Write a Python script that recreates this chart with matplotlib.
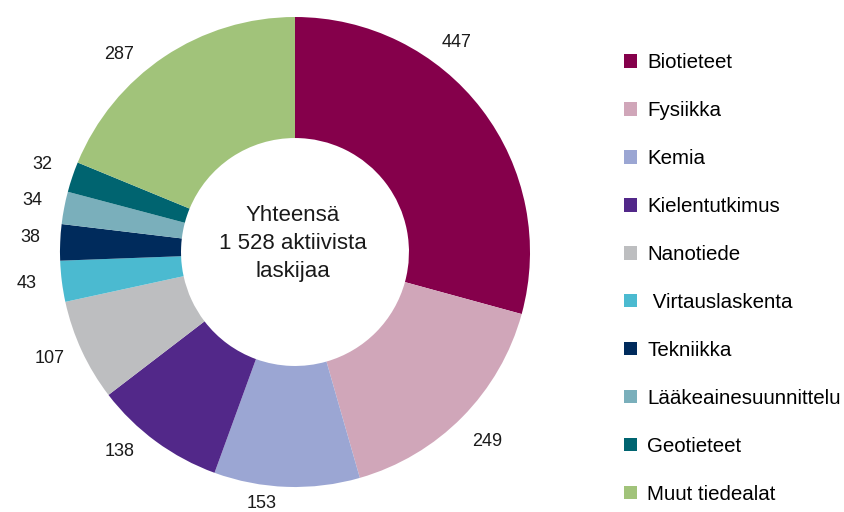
import numpy as np
import matplotlib.pyplot as plt
from matplotlib.patches import Patch

plt.rcParams['font.family'] = ['Liberation Sans', 'DejaVu Sans']

categories = ["Biotieteet", "Fysiikka", "Kemia", "Kielentutkimus", "Nanotiede",
              " Virtauslaskenta", "Tekniikka", "Lääkeainesuunnittelu", "Geotieteet",
              "Muut tiedealat"]
values = [447, 249, 153, 138, 107, 43, 38, 34, 32, 287]
colors = ["#85004B", "#D0A6B9", "#9BA6D3", "#522889", "#BDBEC0",
          "#4BBAD0", "#002B5C", "#7AAFBB", "#006470", "#A1C37A"]
center_text = "Yhteensä\n1 528 aktiivista\nlaskijaa"

# label nudges (degrees along the ring, radius) to mimic the original placement
label_shift = [-15, 0, 5.5, 5, 1.4, 0.5, 0.8, 0.3, 0.5, -8]
label_rad = [1.125, 1.15, 1.08, 1.13, 1.136, 1.148, 1.13, 1.14, 1.14, 1.125]

W, H = 845, 512
fig = plt.figure(figsize=(W / 100, H / 100), dpi=100)

# pie axes placed so the donut centre sits at (295, 252) px, radius 235 px
R = 235
lim = 1.25
side = 2 * lim * R
cx, cy = 295, H - 252
ax = fig.add_axes([(cx - side / 2) / W, (cy - side / 2) / H, side / W, side / H])

wedges, _ = ax.pie(values, colors=colors, startangle=90, counterclock=False,
                   wedgeprops=dict(width=0.515, linewidth=0))

for w, v, sh, r in zip(wedges, values, label_shift, label_rad):
    mid = (w.theta1 + w.theta2) / 2 - sh
    a = np.deg2rad(mid)
    ax.text(r * np.cos(a), r * np.sin(a), str(v), ha="center", va="center",
            fontsize=13, color="#1a1a1a")

ax.text(-0.01, 0.035, center_text, ha="center", va="center", fontsize=16,
        linespacing=1.45, color="#1a1a1a")
ax.set_xlim(-lim, lim)
ax.set_ylim(-lim, lim)
ax.set_aspect("equal")
ax.axis("off")

handles = [Patch(facecolor=c, edgecolor="none") for c in colors]
fig.legend(handles, categories, loc="upper left",
           bbox_to_anchor=(624 / W, 1 - 53 / H), frameon=False,
           fontsize=14.8, handlelength=0.64, handleheight=0.64,
           handletextpad=0.5, labelspacing=1.41, borderpad=0,
           borderaxespad=0)

fig.savefig("out.png", dpi=100)
